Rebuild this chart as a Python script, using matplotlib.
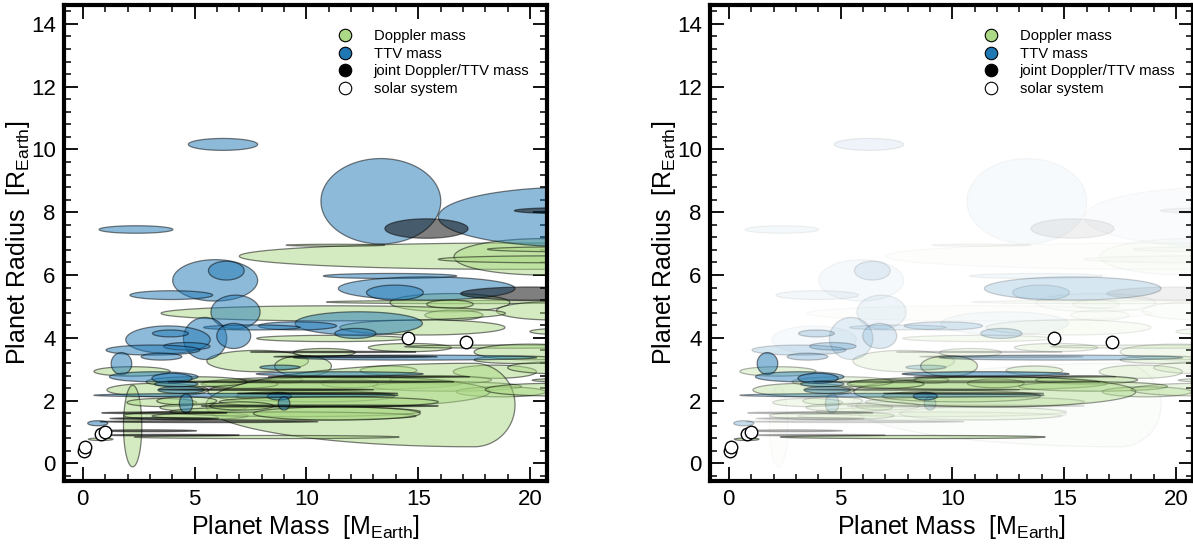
"""
Mass-radius plane for small planets: Doppler vs TTV masses.
Left: every planet at the same opacity. Right: opacity scaled by weight.
"""

import numpy as np
import matplotlib
matplotlib.use("Agg")
import matplotlib.pyplot as plt
from matplotlib.patches import Polygon
from matplotlib.lines import Line2D
from matplotlib.ticker import MultipleLocator

plt.rcParams['font.family'] = ['Liberation Sans', 'DejaVu Sans']
plt.rcParams['mathtext.fontset'] = 'custom'
plt.rcParams['mathtext.rm'] = 'Liberation Sans'

# ---- Doppler masses: mass, -err, +err, radius, radius err, weight (right panel)
dop_mass  = [19.5, 11.3, 20.6, 21.0, 22.0, 17.0, 16.42, 16.42, 21.0, 16.6, 15.19, 11.13, 11.2, 14.63, 19.0,
             7.82, 10.8, 9.85, 13.67, 18.43, 2.2, 11.16, 11.94, 16.0, 9.06, 16.3, 18.7, 11.9, 3.34, 7.01,
             10.4, 22.0, 21.5, 17.5, 2.23, 3.53, 5.39, 4.61, 9.5, 9.0, 11.0, 8.23, 0.8, 5.08, 4.65, 7.1, 11.36,
             20.0, 21.0, 19.5, 21.5]
dop_lo    = [12.5, 2.2, 4.0, 5.1, 3.9, 6.1, 2.68, 1.04, 2.5, 1.3, 3.69, 3.35, 7.7, 1.86, 4.6,
             2.27, 1.38, 1.27, 1.27, 1.86, 1.7, 5.78, 1.27, 2.28, 0.78, 3.32, 2.0, 6.3, 2.26, 1.72,
             3.54, 1.9, 2.5, 12.0, 0.41, 1.56, 1.94, 2.79, 5.6, 5.9, 4.9, 5.92, 0.55, 2.25, 1.34, 1.42, 3.73,
             2.5, 3.0, 2.0, 1.5]
dop_hi    = [12.5, 2.2, 4.0, 5.1, 3.9, 6.1, 2.68, 1.04, 2.5, 1.3, 3.69, 3.35, 7.7, 1.86, 4.6,
             2.27, 1.38, 1.27, 1.27, 1.86, 1.7, 5.78, 1.27, 2.28, 0.78, 3.32, 2.0, 6.3, 2.26, 1.72,
             3.54, 1.9, 2.5, 1.83, 0.41, 1.56, 1.94, 2.79, 5.6, 5.9, 4.9, 5.92, 0.55, 2.25, 1.34, 1.42, 3.73,
             2.5, 3.0, 2.0, 1.5]
dop_rad   = [6.6, 6.95, 6.58, 6.5, 6.82, 5.14, 5.12, 5.07, 4.86, 4.72, 4.33, 3.98, 4.78, 3.69, 3.72,
             3.26, 3.53, 3.1, 2.96, 2.92, 2.93, 2.55, 2.55, 2.66, 2.65, 2.45, 2.28, 2.28, 2.34, 2.53,
             2.14, 2.65, 3.05, 1.86, 1.19, 1.94, 1.78, 1.52, 1.65, 1.51, 1.96, 0.84, 0.77, 2.6, 1.99, 1.83, 1.59,
             3.55, 2.35, 3.3, 4.2]
dop_rerr  = [0.42, 0.03, 0.58, 0.11, 0.08, 0.05, 0.29, 0.13, 0.29, 0.16, 0.24, 0.1, 0.24, 0.13, 0.05,
             0.34, 0.13, 0.33, 0.14, 0.21, 0.15, 0.21, 0.14, 0.13, 0.1, 0.15, 0.16, 0.48, 0.21, 0.14,
             0.18, 0.06, 0.2, 1.33, 1.3, 0.13, 0.13, 0.13, 0.16, 0.13, 0.16, 0.05, 0.04, 0.16, 0.13, 0.13, 0.21,
             0.25, 0.2, 0.12, 0.1]
dop_wt    = [0.05, 0.1, 0.06, 0.06, 0.06, 0.1, 0.08, 0.08, 0.08, 0.08, 0.15, 0.2, 0.05, 0.3, 0.3,
             0.3, 0.3, 0.7, 0.5, 0.4, 0.6, 0.9, 0.9, 0.9, 0.8, 0.8, 0.6, 0.8, 0.7, 0.9,
             0.6, 0.5, 0.3, 0.08, 0.05, 0.3, 0.3, 0.3, 0.15, 0.15, 0.3, 1.0, 1.0, 0.5, 0.3, 0.2, 0.15,
             0.3, 0.5, 0.4, 0.2]

# ---- TTV masses
ttv_mass  = [6.27, 2.38, 13.33, 22.0, 5.92, 6.42, 3.96, 13.74, 15.38, 13.96, 6.83, 12.34, 12.19, 9.6, 7.56,
             5.47, 6.75, 3.81, 3.92, 4.65, 3.14, 3.52, 1.73, 3.17, 3.99, 11.49, 8.79, 7.3, 4.4, 4.18,
             9.0, 4.62, 0.67, 14.86, 8.82]
ttv_err   = [1.55, 1.65, 2.68, 6.1, 1.9, 0.8, 1.85, 2.98, 3.95, 1.27, 1.1, 2.85, 0.92, 1.75, 2.16,
             0.97, 0.76, 1.89, 0.8, 1.04, 2.1, 0.91, 0.46, 1.98, 0.9, 3.73, 0.54, 6.8, 1.04, 0.97,
             0.26, 0.3, 0.45, 5.44, 0.9]
ttv_rad   = [10.16, 7.45, 8.35, 7.85, 5.83, 6.14, 5.36, 5.97, 5.57, 5.44, 4.82, 4.46, 4.14, 4.38, 4.33,
             3.98, 4.06, 3.94, 4.14, 3.73, 3.61, 3.40, 3.18, 2.76, 2.71, 2.85, 2.14, 2.17, 2.34, 2.53,
             1.91, 1.91, 1.28, 3.37, 3.06]
ttv_rerr  = [0.19, 0.12, 1.36, 0.95, 0.66, 0.30, 0.14, 0.08, 0.37, 0.24, 0.54, 0.37, 0.16, 0.13, 0.08,
             0.67, 0.40, 0.44, 0.11, 0.12, 0.16, 0.11, 0.35, 0.16, 0.16, 0.07, 0.12, 0.06, 0.11, 0.09,
             0.21, 0.3, 0.08, 0.08, 0.07]
ttv_wt    = [0.15, 0.1, 0.06, 0.05, 0.08, 0.2, 0.12, 0.1, 0.35, 0.2, 0.15, 0.07, 0.35, 0.3, 0.2,
             0.25, 0.3, 0.06, 0.4, 0.45, 0.35, 0.5, 1.0, 0.9, 1.0, 1.0, 1.0, 0.8, 0.8, 0.8,
             0.3, 0.3, 0.5, 0.6, 0.4]

# ---- joint Doppler/TTV masses
jnt_mass  = [15.37, 22.0, 20.0, 12.2, 10.2, 10.5, 10.6, 3.65, 5.65, 2.86, 4.0, 3.64, 12.8, 11.2, 8.2]
jnt_err   = [1.86, 2.7, 3.1, 3.65, 6.4, 3.58, 5.3, 2.8, 4.87, 2.23, 3.0, 2.42, 4.5, 3.7, 4.8]
jnt_rad   = [7.48, 8.05, 5.41, 3.40, 2.6, 2.23, 1.83, 1.61, 1.33, 1.04, 0.9, 1.43, 2.76, 3.55, 2.35]
jnt_rerr  = [0.31, 0.1, 0.21, 0.03, 0.03, 0.03, 0.03, 0.03, 0.03, 0.03, 0.025, 0.03, 0.025, 0.02, 0.025]
jnt_wt    = [0.12, 0.08, 0.12, 0.3, 0.6, 0.7, 0.2, 0.4, 0.25, 0.5, 0.5, 0.3, 0.6, 0.3, 0.6]

# ---- solar system (Mercury, Venus, Earth, Mars, Uranus, Neptune)
sol_mass  = [0.055, 0.815, 1.0, 0.107, 14.54, 17.15]
sol_rad   = [0.383, 0.949, 1.0, 0.532, 4.01, 3.88]

C_DOP = '#abd985'
C_TTV = '#1f77b4'
C_JNT = '#000000'


def ellipse_xy(m, lo, hi, r, re, n=160):
    t = np.linspace(0, 2 * np.pi, n)
    c, s = np.cos(t), np.sin(t)
    x = m + np.where(c >= 0, hi, lo) * c
    y = r + re * s
    return np.column_stack([x, y])


def draw_set(ax, mass, lo, hi, rad, rerr, wt, color, weighted):
    for i in range(len(mass)):
        a = 0.5 * max(wt[i], 0.04) if weighted else 0.5
        poly = Polygon(ellipse_xy(mass[i], lo[i], hi[i], rad[i], rerr[i]),
                       closed=True, facecolor=color, edgecolor='k', lw=0.9, alpha=a, zorder=2)
        ax.add_patch(poly)


def make_panel(ax, weighted):
    draw_set(ax, dop_mass, dop_lo, dop_hi, dop_rad, dop_rerr, dop_wt, C_DOP, weighted)
    draw_set(ax, ttv_mass, ttv_err, ttv_err, ttv_rad, ttv_rerr, ttv_wt, C_TTV, weighted)
    draw_set(ax, jnt_mass, jnt_err, jnt_err, jnt_rad, jnt_rerr, jnt_wt, C_JNT, weighted)
    ax.plot(sol_mass, sol_rad, 'o', ms=9, mfc='white', mec='k', mew=1.0, zorder=5, ls='none')

    ax.set_xlim(-0.84, 20.76)
    ax.set_ylim(-0.56, 14.6)
    ax.xaxis.set_major_locator(MultipleLocator(5))
    ax.xaxis.set_minor_locator(MultipleLocator(1))
    ax.yaxis.set_major_locator(MultipleLocator(2))
    ax.yaxis.set_minor_locator(MultipleLocator(0.4))
    ax.tick_params(which='both', direction='in', top=True, right=True, labelsize=16)
    ax.tick_params(which='major', length=10, width=1.3, pad=6)
    ax.tick_params(which='minor', length=5, width=1.1)
    for sp in ax.spines.values():
        sp.set_linewidth(3)
    ax.set_xlabel(r"Planet Mass  [M$_{\rm Earth}$]", fontsize=18, labelpad=2)
    ax.set_ylabel(r"Planet Radius  [R$_{\rm Earth}$]", fontsize=18, labelpad=-1)

    handles = [Line2D([], [], ls='none', marker='o', ms=9, mfc=C_DOP, mec='k', mew=0.8),
               Line2D([], [], ls='none', marker='o', ms=9, mfc=C_TTV, mec='k', mew=0.8),
               Line2D([], [], ls='none', marker='o', ms=9, mfc=C_JNT, mec='k', mew=0.8),
               Line2D([], [], ls='none', marker='o', ms=9, mfc='white', mec='k', mew=0.8)]
    labels = ['Doppler mass', 'TTV mass', 'joint Doppler/TTV mass', 'solar system']
    ax.legend(handles, labels, loc='upper left', bbox_to_anchor=(0.555, 0.962), frameon=False,
              fontsize=10.7, handlelength=1.0, handletextpad=1.4, labelspacing=0.25, borderaxespad=0)


fig = plt.figure(figsize=(11.93, 5.45), dpi=100)
ax1 = fig.add_axes([64 / 1193, 64 / 545, 483 / 1193, 476 / 545])
ax2 = fig.add_axes([710 / 1193, 64 / 545, 483 / 1193, 476 / 545])
make_panel(ax1, weighted=False)
make_panel(ax2, weighted=True)

fig.savefig("out.png", dpi=100)
